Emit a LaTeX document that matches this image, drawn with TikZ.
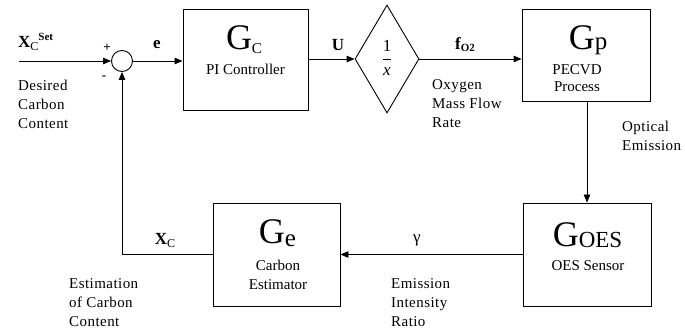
\documentclass[tikz,border=0pt]{standalone}
\usepackage{fontspec}
\setmainfont{Liberation Serif}
\usetikzlibrary{shapes.geometric,arrows.meta}
\begin{document}
\begin{tikzpicture}[x=1pt,y=-1pt,
  blk/.style={draw, line width=0.9pt, inner sep=0, rectangle},
  ln/.style={line width=0.9pt},
  arr/.style={line width=0.9pt, -{Triangle[length=8pt,width=6.5pt]}},
  lab/.style={font=\fontsize{15}{19}\selectfont\addfontfeatures{LetterSpace=3}, align=left, inner sep=0, anchor=north west},
  sub/.style={font=\fontsize{15}{17}\selectfont, inner sep=0, anchor=base},
  sig/.style={font=\fontsize{17}{17}\selectfont\bfseries, inner sep=0},
  bigG/.style={font=\fontsize{36}{36}\selectfont, inner sep=0, anchor=base},
  pm/.style={font=\fontsize{13}{13}\selectfont\bfseries, inner sep=0}
]
\useasboundingbox (0,0) rectangle (685,331);

% blocks
\node[blk, minimum width=125pt, minimum height=101pt] (gc) at (245.5,59.5) {};
\node[draw, line width=0.9pt, diamond, inner sep=0, minimum width=64pt, minimum height=108pt] (dia) at (387,59) {};
\node[blk, minimum width=128pt, minimum height=92pt] (gp) at (586,55) {};
\node[blk, minimum width=128pt, minimum height=103pt] (goes) at (587,254.5) {};
\node[blk, minimum width=127pt, minimum height=103pt] (ge) at (276.5,254.5) {};
\node[circle, draw, line width=0.9pt, minimum size=21pt, inner sep=0] (s) at (122,61) {};
\coordinate (in) at (19,61);

% block texts
\node[bigG] (gct) at (244,50) {G\raisebox{-4pt}{\fontsize{15}{15}\selectfont C}};
\node[sub] (gcs) at (245.5,75) {PI Controller};
\node[font=\fontsize{17}{17}\selectfont, inner sep=0] (frac) at (387,58) {$\displaystyle\frac{\mbox{1}}{\mbox{\itshape x}}$};
\node[bigG] (gpt) at (588,50) {G\fontsize{25}{25}\selectfont p};
\node[sub] (gps1) at (577,75) {PECVD};
\node[sub] (gps2) at (577,92) {Process};
\node[bigG] (goest) at (587.5,246) {G\raisebox{-1pt}{\fontsize{23}{23}\selectfont OES}};
\node[sub] (goess) at (588,270) {OES Sensor};
\node[bigG] (get) at (277.5,243) {G\raisebox{-3pt}{\fontsize{25}{25}\selectfont e}};
\node[sub] (ges1) at (278,270) {Carbon};
\node[sub] (ges2) at (278,289) {Estimator};

% connectors
\draw[arr] (in) -- (s.west);
\draw[arr] (s.east) -- (gc.west |- s.east);
\draw[arr] (gc.east |- dia.west) -- (dia.west);
\draw[arr] (dia.east) -- (gp.west |- dia.east);
\draw[arr] (gp.south -| goes.north) -- (goes.north);
\draw[arr] (goes.west) -- (ge.east);
\draw[arr] (ge.west) -| (s.south);

% signal labels
\node[sig, anchor=base west] (xset) at (18,48) {X\raisebox{-3pt}{\fontsize{12}{12}\selectfont\mdseries C}\raisebox{7pt}{\fontsize{11}{11}\selectfont Set}};
\node[pm] (plus) at (107,48) {+};
\node[pm] (minus) at (104,78) {-};
\node[sig] (e) at (157,45) {e};
\node[sig] (u) at (338,45) {U};
\node[sig] (f) at (465,45) {f\raisebox{-2pt}{\fontsize{11}{11}\selectfont O2}};
\node[font=\fontsize{17}{17}\selectfont, inner sep=0] (gam) at (417,240) {γ};
\node[sig] (xc) at (165,240) {X\raisebox{-3pt}{\fontsize{12}{12}\selectfont\mdseries C}};

% descriptive labels
\node[lab] (d1) at (18,80) {Desired\\Carbon\\Content};
\node[lab] (d2) at (432,79) {Oxygen\\Mass Flow\\Rate};
\node[lab] (d3) at (622,121) {Optical\\Emission};
\node[lab] (d4) at (391,278) {Emission\\Intensity\\Ratio};
\node[lab] (d5) at (69,278) {Estimation\\of Carbon\\Content};
\end{tikzpicture}
\end{document}
